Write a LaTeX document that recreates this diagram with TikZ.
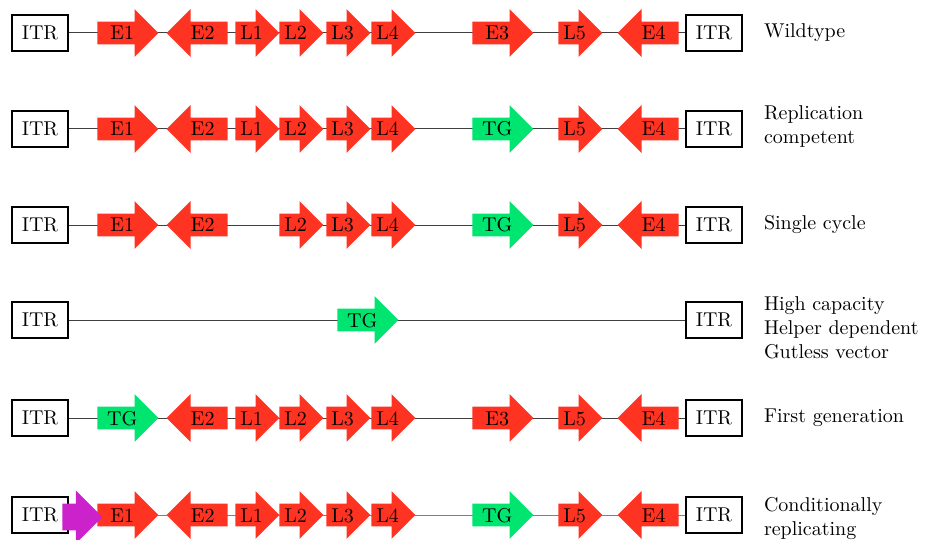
\documentclass[tikz,border=0pt]{standalone}
\usepackage{tikz}
\usetikzlibrary{shapes.arrows, positioning}
\definecolor{genered}{RGB}{255, 51, 34}
\definecolor{tggreen}{RGB}{0, 228, 112}
\definecolor{promag}{RGB}{204, 34, 204}
\tikzset{
  itrnode/.style={draw, line width=0.6pt, minimum width=28pt, minimum height=18pt, inner sep=0pt},
  gene/.style={single arrow, single arrow tip angle=90, single arrow head extend=6.25pt, text height=7pt, text depth=0pt, inner xsep=0pt, inner ysep=2pt, anchor=tail},
  egene/.style={gene, fill=genered, minimum height=30.5pt},
  lgene/.style={gene, fill=genered, minimum height=22pt},
  tgnode/.style={gene, fill=tggreen, minimum height=30.5pt},
  revgene/.style={shape border rotate=180},
  promoter/.style={single arrow, single arrow tip angle=90, single arrow head extend=6.5pt, text height=9pt, text depth=0pt, inner sep=2pt, anchor=tail, minimum height=20pt, fill=promag},
  backbone/.style={black!75, line width=0.5pt},
  vlabel/.style={anchor=west, align=left, inner sep=0pt},
}
\begin{document}
\begin{tikzpicture}[x=0.5pt, y=-0.5pt, every node/.style={font=\fontsize{10}{12}\selectfont}]
  \useasboundingbox (0,0) rectangle (927,540);
  % Wildtype
  \node[itrnode] (r1l) at (40,33) {ITR};
  \node[itrnode] (r1r) at (714,33) {ITR};
  \draw[backbone] (r1l) -- (r1r);
  \node[egene] (r1e1) at (97,33) {E1};
  \node[egene, revgene] (r1e2) at (228,33) {E2};
  \node[lgene] (r1l1) at (235,33) {L1};
  \node[lgene] (r1l2) at (279,33) {L2};
  \node[lgene] (r1l3) at (326,33) {L3};
  \node[lgene] (r1l4) at (371,33) {L4};
  \node[egene] (r1e3) at (472,33) {E3};
  \node[lgene] (r1l5) at (558,33) {L5};
  \node[egene, revgene] (r1e4) at (679,33) {E4};
  \node[vlabel] (r1lab) [right=10.5pt of r1r] {Wildtype};
  % Replication competent
  \node[itrnode] (r2l) at (40,129) {ITR};
  \node[itrnode] (r2r) at (714,129) {ITR};
  \draw[backbone] (r2l) -- (r2r);
  \node[egene] (r2e1) at (97,129) {E1};
  \node[egene, revgene] (r2e2) at (228,129) {E2};
  \node[lgene] (r2l1) at (235,129) {L1};
  \node[lgene] (r2l2) at (279,129) {L2};
  \node[lgene] (r2l3) at (326,129) {L3};
  \node[lgene] (r2l4) at (371,129) {L4};
  \node[tgnode] (r2tg) at (472,129) {TG};
  \node[lgene] (r2l5) at (558,129) {L5};
  \node[egene, revgene] (r2e4) at (679,129) {E4};
  \node[vlabel] (r2lab) [right=10.5pt of r2r, yshift=1pt] {Replication\\competent};
  % Single cycle
  \node[itrnode] (r3l) at (40,225) {ITR};
  \node[itrnode] (r3r) at (714,225) {ITR};
  \draw[backbone] (r3l) -- (r3r);
  \node[egene] (r3e1) at (97,225) {E1};
  \node[egene, revgene] (r3e2) at (228,225) {E2};
  \node[lgene] (r3l2) at (279,225) {L2};
  \node[lgene] (r3l3) at (326,225) {L3};
  \node[lgene] (r3l4) at (371,225) {L4};
  \node[tgnode] (r3tg) at (472,225) {TG};
  \node[lgene] (r3l5) at (558,225) {L5};
  \node[egene, revgene] (r3e4) at (679,225) {E4};
  \node[vlabel] (r3lab) [right=10.5pt of r3r] {Single cycle};
  % High capacity / helper dependent
  \node[itrnode] (r4l) at (40,320) {ITR};
  \node[itrnode] (r4r) at (714,320) {ITR};
  \draw[backbone] (r4l) -- (r4r);
  \node[tgnode] (r4tg) at (337,320) {TG};
  \node[vlabel] (r4lab) [right=10.5pt of r4r, yshift=-4pt] {High capacity\\Helper dependent\\Gutless vector};
  % First generation
  \node[itrnode] (r5l) at (40,418) {ITR};
  \node[itrnode] (r5r) at (714,418) {ITR};
  \draw[backbone] (r5l) -- (r5r);
  \node[tgnode] (r5tg) at (97,418) {TG};
  \node[egene, revgene] (r5e2) at (228,418) {E2};
  \node[lgene] (r5l1) at (235,418) {L1};
  \node[lgene] (r5l2) at (279,418) {L2};
  \node[lgene] (r5l3) at (326,418) {L3};
  \node[lgene] (r5l4) at (371,418) {L4};
  \node[egene] (r5e3) at (472,418) {E3};
  \node[lgene] (r5l5) at (558,418) {L5};
  \node[egene, revgene] (r5e4) at (679,418) {E4};
  \node[vlabel] (r5lab) [right=10.5pt of r5r] {First generation};
  % Conditionally replicating
  \node[itrnode] (r6l) at (40,515) {ITR};
  \node[itrnode] (r6r) at (714,515) {ITR};
  \draw[backbone, black!50] (r6l) -- (r6r);
  \node[egene] (r6e1) at (97,515) {E1};
  \node[promoter] (r6pro) at (62,517) {};
  \node[egene, revgene] (r6e2) at (228,515) {E2};
  \node[lgene] (r6l1) at (235,515) {L1};
  \node[lgene] (r6l2) at (279,515) {L2};
  \node[lgene] (r6l3) at (326,515) {L3};
  \node[lgene] (r6l4) at (371,515) {L4};
  \node[tgnode] (r6tg) at (472,515) {TG};
  \node[lgene] (r6l5) at (558,515) {L5};
  \node[egene, revgene] (r6e4) at (679,515) {E4};
  \node[vlabel] (r6lab) [right=10.5pt of r6r, yshift=-2pt] {Conditionally\\replicating};
\end{tikzpicture}
\end{document}
